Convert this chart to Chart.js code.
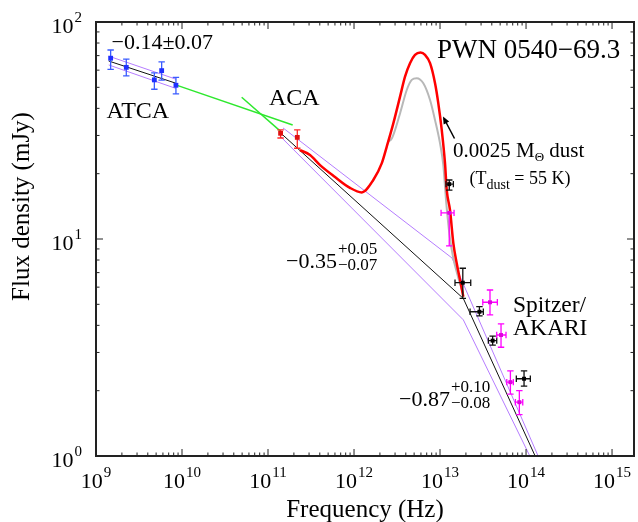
<!DOCTYPE html>
<html>
<head>
<meta charset="utf-8">
<script src="https://cdn.jsdelivr.net/npm/chart.js@4/dist/chart.umd.min.js"></script>
<style>
  body { margin: 0; background: #fff; }
  #wrap { width: 638px; height: 522px; }
</style>
</head>
<body>
<div id="wrap"><canvas id="sedChart"></canvas></div>
<script>
// ATCA radio points
const atcaFreq = [1.48e9, 2.25e9, 4.77e9, 5.8e9, 8.5e9];
const atcaFlux = [68.1, 61.8, 54.1, 59.7, 51.1];
const atcaLo = [60.5, 56.4, 49.0, 54.0, 46.6];
const atcaHi = [74.3, 67.4, 58.3, 65.5, 55.6];

// ACA points
const acaFreq = [1.40e11, 2.19e11];
const acaFlux = [30.7, 29.4];
const acaLo = [29.2, 26.2];
const acaHi = [31.8, 31.8];

// infrared points (black)
const irFreq = [1.28e13, 1.84e13, 2.87e13, 4.09e13, 9.48e13];
const irFlux = [17.9, 6.29, 4.62, 3.40, 2.27];
const irLo = [16.8, 5.33, 4.42, 3.24, 2.10];
const irHi = [18.7, 7.33, 4.88, 3.57, 2.47];
const irFreqLo = [1.175e13, 1.493e13, 2.234e13, 3.648e13, 7.71e13];
const irFreqHi = [1.429e13, 2.275e13, 3.187e13, 4.563e13, 1.122e14];

// Spitzer / AKARI points (magenta)
const saFreq = [1.28e13, 3.81e13, 5.12e13, 6.58e13, 8.36e13];
const saFlux = [13.2, 5.11, 3.61, 2.19, 1.77];
const saLo = [9.3, 4.47, 3.17, 1.93, 1.55];
const saHi = [13.2, 5.82, 4.06, 2.47, 2.00];
const saFreqLo = [1.028e13, 3.14e13, 4.56e13, 5.97e13, 7.52e13];
const saFreqHi = [1.456e13, 4.64e13, 5.85e13, 7.12e13, 9.16e13];

// power-law fits
const atcaFitFreq = [1.406e9, 8.51e9];
const atcaFitFlux = [66.1, 52.2];
const atcaUpFlux = [69.6, 54.5];
const atcaDnFlux = [63.4, 49.4];

const fitFreq = [1.352e11, 1.866e13, 1.44e14];
const fitFlux = [31.2, 5.32, 0.9];
const fitUpFreq = [1.493e11, 1.380e13, 1.55e14];
const fitUpFlux = [32.5, 8.17, 0.9];
const fitDnFreq = [1.380e11, 1.866e13, 1.26e14];
const fitDnFlux = [29.8, 4.24, 0.9];

// green extrapolations
const green1Freq = [8.45e9, 1.936e11];
const green1Flux = [51.3, 33.5];
const green2Freq = [4.94e10, 1.380e11];
const green2Flux = [45.0, 31.5];

// synchrotron + dust model (red) and dust curve (grey)
const modelFreq = [2.355e11, 3.076e11, 4.027e11, 6.012e11, 8.974e11, 1.230e12, 1.675e12, 2.099e12,
  2.399e12, 2.864e12, 3.428e12, 3.917e12, 4.477e12, 5.117e12, 5.929e12, 6.699e12, 7.656e12,
  8.750e12, 9.550e12, 1.047e13, 1.143e13, 1.197e13, 1.306e13, 1.429e13, 1.563e13, 1.710e13, 1.866e13];
const modelFlux = [25.7, 24.4, 21.9, 19.3, 17.2, 16.4, 18.7, 22.3,
  26.6, 34.1, 45.3, 56.0, 64.6, 70.5, 72.3, 70.5, 64.6,
  52.2, 42.2, 31.8, 22.3, 16.8, 13.6, 9.55, 7.73, 6.47, 5.42];
const dustFreq = [2.483e12, 2.767e12, 3.428e12, 4.102e12, 4.688e12, 5.358e12, 6.397e12, 7.656e12,
  8.750e12, 1.0e13, 1.092e13, 1.183e13, 1.297e13, 1.416e13, 1.618e13, 1.849e13];
const dustFlux = [28.0, 29.2, 37.9, 48.6, 54.1, 55.1, 52.2, 43.7,
  35.3, 27.6, 21.9, 14.6, 10.25, 8.28, 6.70, 5.62];

const pts = (xs, ys) => xs.map((v, i) => ({ x: v, y: ys[i] }));

const SERIF = '"Liberation Serif", "Times New Roman", serif';

function lineSet(xs, ys, color, width, extra) {
  return Object.assign({
    data: pts(xs, ys),
    showLine: true,
    borderColor: color,
    borderWidth: width,
    pointRadius: 0,
    fill: false
  }, extra || {});
}

function pointSet(xs, ys, color, radius, err) {
  return {
    data: pts(xs, ys),
    showLine: false,
    pointStyle: 'rect',
    pointRadius: radius,
    backgroundColor: color,
    borderColor: color,
    borderWidth: 0,
    err: err
  };
}

// error bars, drawn just before the markers of their dataset
const errorBars = {
  id: 'errorBars',
  beforeDatasetDraw(chart, args) {
    const ds = chart.data.datasets[args.index];
    if (!ds.err) return;
    const { ctx, scales: { x, y } } = chart;
    const e = ds.err;
    const cap = 3.2;
    ctx.save();
    ctx.strokeStyle = e.color;
    ctx.lineWidth = 1.3;
    ds.data.forEach((p, i) => {
      const px = x.getPixelForValue(p.x);
      const py = y.getPixelForValue(p.y);
      const yl = y.getPixelForValue(e.lo[i]);
      const yh = y.getPixelForValue(e.hi[i]);
      ctx.beginPath();
      ctx.moveTo(px, yl);
      ctx.lineTo(px, yh);
      if (yl - py > 1) { ctx.moveTo(px - cap, yl); ctx.lineTo(px + cap, yl); }
      if (py - yh > 1) { ctx.moveTo(px - cap, yh); ctx.lineTo(px + cap, yh); }
      if (e.xlo) {
        const xl = x.getPixelForValue(e.xlo[i]);
        const xh = x.getPixelForValue(e.xhi[i]);
        ctx.moveTo(xl, py);
        ctx.lineTo(xh, py);
        ctx.moveTo(xl, py - cap); ctx.lineTo(xl, py + cap);
        ctx.moveTo(xh, py - cap); ctx.lineTo(xh, py + cap);
      }
      ctx.stroke();
    });
    ctx.restore();
  }
};

function powLabel(ctx, exp, x, y, align) {
  ctx.font = '22px ' + SERIF;
  const wb = ctx.measureText('10').width;
  ctx.font = '15px ' + SERIF;
  const we = ctx.measureText(String(exp)).width;
  const total = wb + 1 + we;
  let left = align === 'right' ? x - total : x - total / 2;
  ctx.textAlign = 'left';
  ctx.textBaseline = 'alphabetic';
  ctx.font = '22px ' + SERIF;
  ctx.fillText('10', left, y);
  ctx.font = '15px ' + SERIF;
  ctx.fillText(String(exp), left + wb + 1, y - 11);
}

// frame, inward ticks, tick labels, axis titles and annotations
const decorations = {
  id: 'decorations',
  afterDraw(chart) {
    const { ctx, chartArea: a, scales: { x, y } } = chart;
    ctx.save();
    ctx.strokeStyle = '#222';
    ctx.fillStyle = '#000';

    ctx.lineWidth = 1;
    ctx.beginPath();
    for (let d = 9; d <= 15; d++) {
      for (let k = 1; k <= 9; k++) {
        const v = k * Math.pow(10, d);
        if (v < x.min || v > x.max) continue;
        const px = x.getPixelForValue(v);
        const len = k === 1 ? 7 : 3.5;
        ctx.moveTo(px, a.bottom); ctx.lineTo(px, a.bottom - len);
        ctx.moveTo(px, a.top); ctx.lineTo(px, a.top + len);
      }
    }
    for (let d = 0; d <= 2; d++) {
      for (let k = 1; k <= 9; k++) {
        const v = k * Math.pow(10, d);
        if (v < y.min || v > y.max) continue;
        const py = y.getPixelForValue(v);
        const len = k === 1 ? 7 : 3.5;
        ctx.moveTo(a.left, py); ctx.lineTo(a.left + len, py);
        ctx.moveTo(a.right, py); ctx.lineTo(a.right - len, py);
      }
    }
    ctx.stroke();

    ctx.lineWidth = 2;
    ctx.strokeRect(a.left, a.top, a.right - a.left, a.bottom - a.top);

    for (let d = 9; d <= 15; d++) {
      powLabel(ctx, d, x.getPixelForValue(Math.pow(10, d)), a.bottom + 31.5, 'center');
    }
    for (let d = 0; d <= 2; d++) {
      powLabel(ctx, d, 82, y.getPixelForValue(Math.pow(10, d)) + 11, 'right');
    }

    // axis titles
    ctx.font = '25px ' + SERIF;
    ctx.textAlign = 'center';
    ctx.textBaseline = 'alphabetic';
    ctx.fillText('Frequency (Hz)', (a.left + a.right) / 2, 517);
    ctx.save();
    ctx.translate(28.5, 206.5);
    ctx.rotate(-Math.PI / 2);
    ctx.fillText('Flux density (mJy)', 0, 0);
    ctx.restore();

    ctx.textAlign = 'left';
    ctx.font = '22px ' + SERIF;
    ctx.fillText('\u22120.14\u00b10.07', 111.5, 49);
    ctx.font = '24px ' + SERIF;
    ctx.fillText('ATCA', 106.5, 118);
    ctx.fillText('ACA', 269, 104.5);
    ctx.font = '23.5px ' + SERIF;
    ctx.fillText('Spitzer/', 513, 312);
    ctx.fillText('AKARI', 513, 335);
    ctx.font = '27px ' + SERIF;
    ctx.fillText('PWN 0540\u221269.3', 437, 58);

    // dust mass label
    let cx = 453;
    ctx.font = '21px ' + SERIF;
    ctx.fillText('0.0025 M', cx, 157);
    cx += ctx.measureText('0.0025 M').width;
    ctx.font = '13px ' + SERIF;
    ctx.fillText('\u0398', cx, 161);
    cx += ctx.measureText('\u0398').width;
    ctx.font = '21px ' + SERIF;
    ctx.fillText(' dust', cx, 157);

    cx = 469.5;
    ctx.font = '18px ' + SERIF;
    ctx.fillText('(T', cx, 184);
    cx += ctx.measureText('(T').width;
    ctx.font = '14px ' + SERIF;
    ctx.fillText('dust', cx, 189);
    cx += ctx.measureText('dust').width;
    ctx.font = '18px ' + SERIF;
    ctx.fillText(' = 55 K)', cx, 184);

    // arrow to the model curve
    ctx.strokeStyle = '#000';
    ctx.lineWidth = 1.5;
    ctx.beginPath();
    ctx.moveTo(454.5, 138.5);
    ctx.lineTo(444, 118.5);
    ctx.stroke();
    const ang = Math.atan2(116.5 - 138.5, 443 - 454.5);
    ctx.beginPath();
    ctx.moveTo(443, 116.5);
    ctx.lineTo(443 - 8 * Math.cos(ang - 0.4), 116.5 - 8 * Math.sin(ang - 0.4));
    ctx.lineTo(443 - 8 * Math.cos(ang + 0.4), 116.5 - 8 * Math.sin(ang + 0.4));
    ctx.closePath();
    ctx.fill();

    // spectral indices with asymmetric errors
    function index(main, up, dn, left, base) {
      ctx.font = '22px ' + SERIF;
      ctx.fillText(main, left, base);
      const w = ctx.measureText(main).width;
      ctx.font = '17px ' + SERIF;
      ctx.fillText(up, left + w + 1, base - 14);
      ctx.fillText(dn, left + w + 1, base + 1.5);
    }
    index('\u22120.35', '+0.05', '\u22120.07', 286, 268);
    index('\u22120.87', '+0.10', '\u22120.08', 399, 406);

    ctx.restore();
  }
};

new Chart(document.getElementById('sedChart'), {
  type: 'scatter',
  data: {
    datasets: [
      pointSet(atcaFreq, atcaFlux, '#1f2fff', 3.4, { lo: atcaLo, hi: atcaHi, color: '#3a5cff' }),
      pointSet(acaFreq, acaFlux, '#e01010', 3.4, { lo: acaLo, hi: acaHi, color: '#ff2a2a' }),
      pointSet(saFreq, saFlux, '#e000e0', 2.8, { lo: saLo, hi: saHi, xlo: saFreqLo, xhi: saFreqHi, color: '#ff00ff' }),
      pointSet(irFreq, irFlux, '#000000', 2.8, { lo: irLo, hi: irHi, xlo: irFreqLo, xhi: irFreqHi, color: '#111111' }),
      lineSet(modelFreq, modelFlux, '#ff0000', 2.5, { cubicInterpolationMode: 'monotone' }),
      lineSet(dustFreq, dustFlux, '#b8b8b8', 2, { cubicInterpolationMode: 'monotone' }),
      lineSet(atcaFitFreq, atcaFitFlux, '#111111', 1),
      lineSet(fitFreq, fitFlux, '#111111', 1),
      lineSet(atcaFitFreq, atcaUpFlux, '#b57cff', 1),
      lineSet(atcaFitFreq, atcaDnFlux, '#b57cff', 1),
      lineSet(fitUpFreq, fitUpFlux, '#b57cff', 1),
      lineSet(fitDnFreq, fitDnFlux, '#b57cff', 1),
      lineSet(green1Freq, green1Flux, '#2ee82e', 1.5),
      lineSet(green2Freq, green2Flux, '#2ee82e', 1.5)
    ]
  },
  options: {
    responsive: true,
    maintainAspectRatio: false,
    animation: false,
    layout: { padding: { left: 96, right: 4, top: 22, bottom: 66 } },
    plugins: { legend: { display: false }, tooltip: { enabled: false } },
    scales: {
      x: { type: 'logarithmic', min: 1e9, max: 1.8e15, display: false },
      y: { type: 'logarithmic', min: 1, max: 100, display: false }
    }
  },
  plugins: [errorBars, decorations]
});
</script>
</body>
</html>
